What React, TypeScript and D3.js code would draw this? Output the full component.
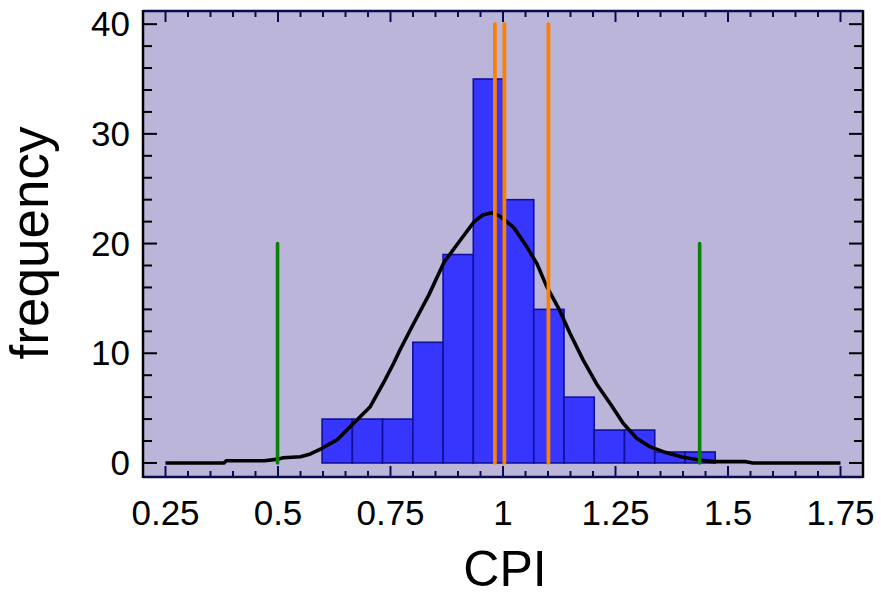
import React from 'react';
import * as d3 from 'd3';

// histogram of CPI values
const histStart = 0.598;
const binWidth = 0.0672;
const binCounts = [4, 4, 4, 11, 19, 35, 24, 14, 6, 3, 3, 1, 1];

// fitted density curve (scaled to counts)
const curveX = [0.25, 0.38, 0.385, 0.47, 0.5, 0.512, 0.55, 0.572, 0.598, 0.631, 0.668, 0.705, 0.734, 0.757, 0.771, 0.8, 0.835, 0.869, 0.905, 0.936, 0.955, 0.975, 0.993, 1.023, 1.053, 1.075, 1.097, 1.126, 1.149, 1.178, 1.208, 1.24, 1.267, 1.297, 1.326, 1.356, 1.4, 1.437, 1.467, 1.54, 1.555, 1.75];
const curveY = [0, 0, 0.2, 0.2, 0.35, 0.48, 0.57, 0.82, 1.34, 2.1, 3.62, 5.13, 7.27, 9.09, 10.3, 12.6, 15.3, 18.3, 20.3, 22.0, 22.6, 22.8, 22.5, 21.5, 19.7, 18.2, 16.1, 13.9, 11.8, 9.4, 7.2, 5.3, 3.62, 2.25, 1.49, 1.03, 0.52, 0.27, 0.12, 0.12, 0, 0];

// reference lines
const orangeLines = [0.982, 1.003, 1.101];
const orangeTop = 40;
const greenLines = [0.499, 1.437];
const greenTop = 20;

const xTicks = [0.25, 0.5, 0.75, 1, 1.25, 1.5, 1.75];
const xTickLabels = ['0.25', '0.5', '0.75', '1', '1.25', '1.5', '1.75'];
const yTicks = [0, 10, 20, 30, 40];

const W = 881, H = 596;
const left = 143, right = 863, top = 11, bottom = 477;
const font = 'Liberation Sans, Arial, sans-serif';

export default function App() {
  const x = d3.scaleLinear().domain([0.2, 1.8]).range([left, right]);
  const y = d3.scaleLinear().domain([-1.28, 41.2]).range([bottom, top]);

  const line = d3.line<number>()
    .x((d, i) => x(curveX[i]))
    .y(d => y(d));

  const xMinor = d3.range(0.2, 1.8001, 0.05).map(v => +v.toFixed(2));
  const yMinor = d3.range(0, 41, 2);
  const navy = '#0a0a50';

  return (
    <div style={{ position: 'absolute', left: 0, top: 0 }}>
      <svg width={W} height={H} style={{ display: 'block', background: '#fff' }}>
        <rect x={left} y={top} width={right - left} height={bottom - top} fill="#bcb5da" />

        {binCounts.map((c, i) => {
          const x0 = x(histStart + i * binWidth);
          const x1 = x(histStart + (i + 1) * binWidth);
          return (
            <rect key={i} x={x0} y={y(c)} width={x1 - x0} height={y(0) - y(c)}
              fill="#3636ff" stroke="#10109c" strokeWidth={1.6} />
          );
        })}

        <path d={line(curveY) || ''} fill="none" stroke="#000" strokeWidth={3.6} strokeLinejoin="round" />

        {greenLines.map((v, i) => (
          <line key={'g' + i} x1={x(v)} x2={x(v)} y1={y(0)} y2={y(greenTop)}
            stroke="#0a800a" strokeWidth={3.6} strokeLinecap="round" />
        ))}
        {orangeLines.map((v, i) => (
          <line key={'o' + i} x1={x(v)} x2={x(v)} y1={y(0)} y2={y(orangeTop)}
            stroke="#ff8000" strokeWidth={3.8} strokeLinecap="round" />
        ))}

        {/* bottom and top axes */}
        {xMinor.map((v, i) => {
          const major = xTicks.some(t => Math.abs(t - v) < 1e-6);
          const len = major ? 11 : 6;
          return (
            <g key={'xt' + i}>
              <line x1={x(v)} x2={x(v)} y1={bottom} y2={bottom - len} stroke={navy} strokeWidth={2} />
              <line x1={x(v)} x2={x(v)} y1={top} y2={top + len} stroke={navy} strokeWidth={2} />
            </g>
          );
        })}
        {/* left and right axes */}
        {yMinor.map((v, i) => {
          const major = v % 10 === 0;
          const len = major ? 14 : 9;
          return (
            <g key={'yt' + i}>
              <line x1={left} x2={left + len} y1={y(v)} y2={y(v)} stroke="#000" strokeWidth={2} />
              <line x1={right} x2={right - len} y1={y(v)} y2={y(v)} stroke="#000" strokeWidth={2} />
            </g>
          );
        })}
        <line x1={left} x2={right} y1={bottom} y2={bottom} stroke={navy} strokeWidth={2.5} />
        <line x1={left} x2={right} y1={top} y2={top} stroke={navy} strokeWidth={2.5} />
        <line x1={left} x2={left} y1={top - 1} y2={bottom + 1} stroke="#000" strokeWidth={2.5} />
        <line x1={right} x2={right} y1={top - 1} y2={bottom + 1} stroke="#000" strokeWidth={2.5} />

        {xTicks.map((v, i) => (
          <text key={'xl' + i} x={x(v)} y={525} textAnchor="middle" fontFamily={font} fontSize={35} fill="#000">
            {xTickLabels[i]}
          </text>
        ))}
        {yTicks.map((v, i) => (
          <text key={'yl' + i} x={130} y={y(v) + 12} textAnchor="end" fontFamily={font} fontSize={35} fill="#000">
            {v}
          </text>
        ))}

        <text x={505} y={586} textAnchor="middle" fontFamily={font} fontSize={50} fill="#000">CPI</text>
        <text transform="translate(48,243) rotate(-90)" textAnchor="middle" fontFamily={font} fontSize={53} fill="#000">frequency</text>
      </svg>
    </div>
  );
}
